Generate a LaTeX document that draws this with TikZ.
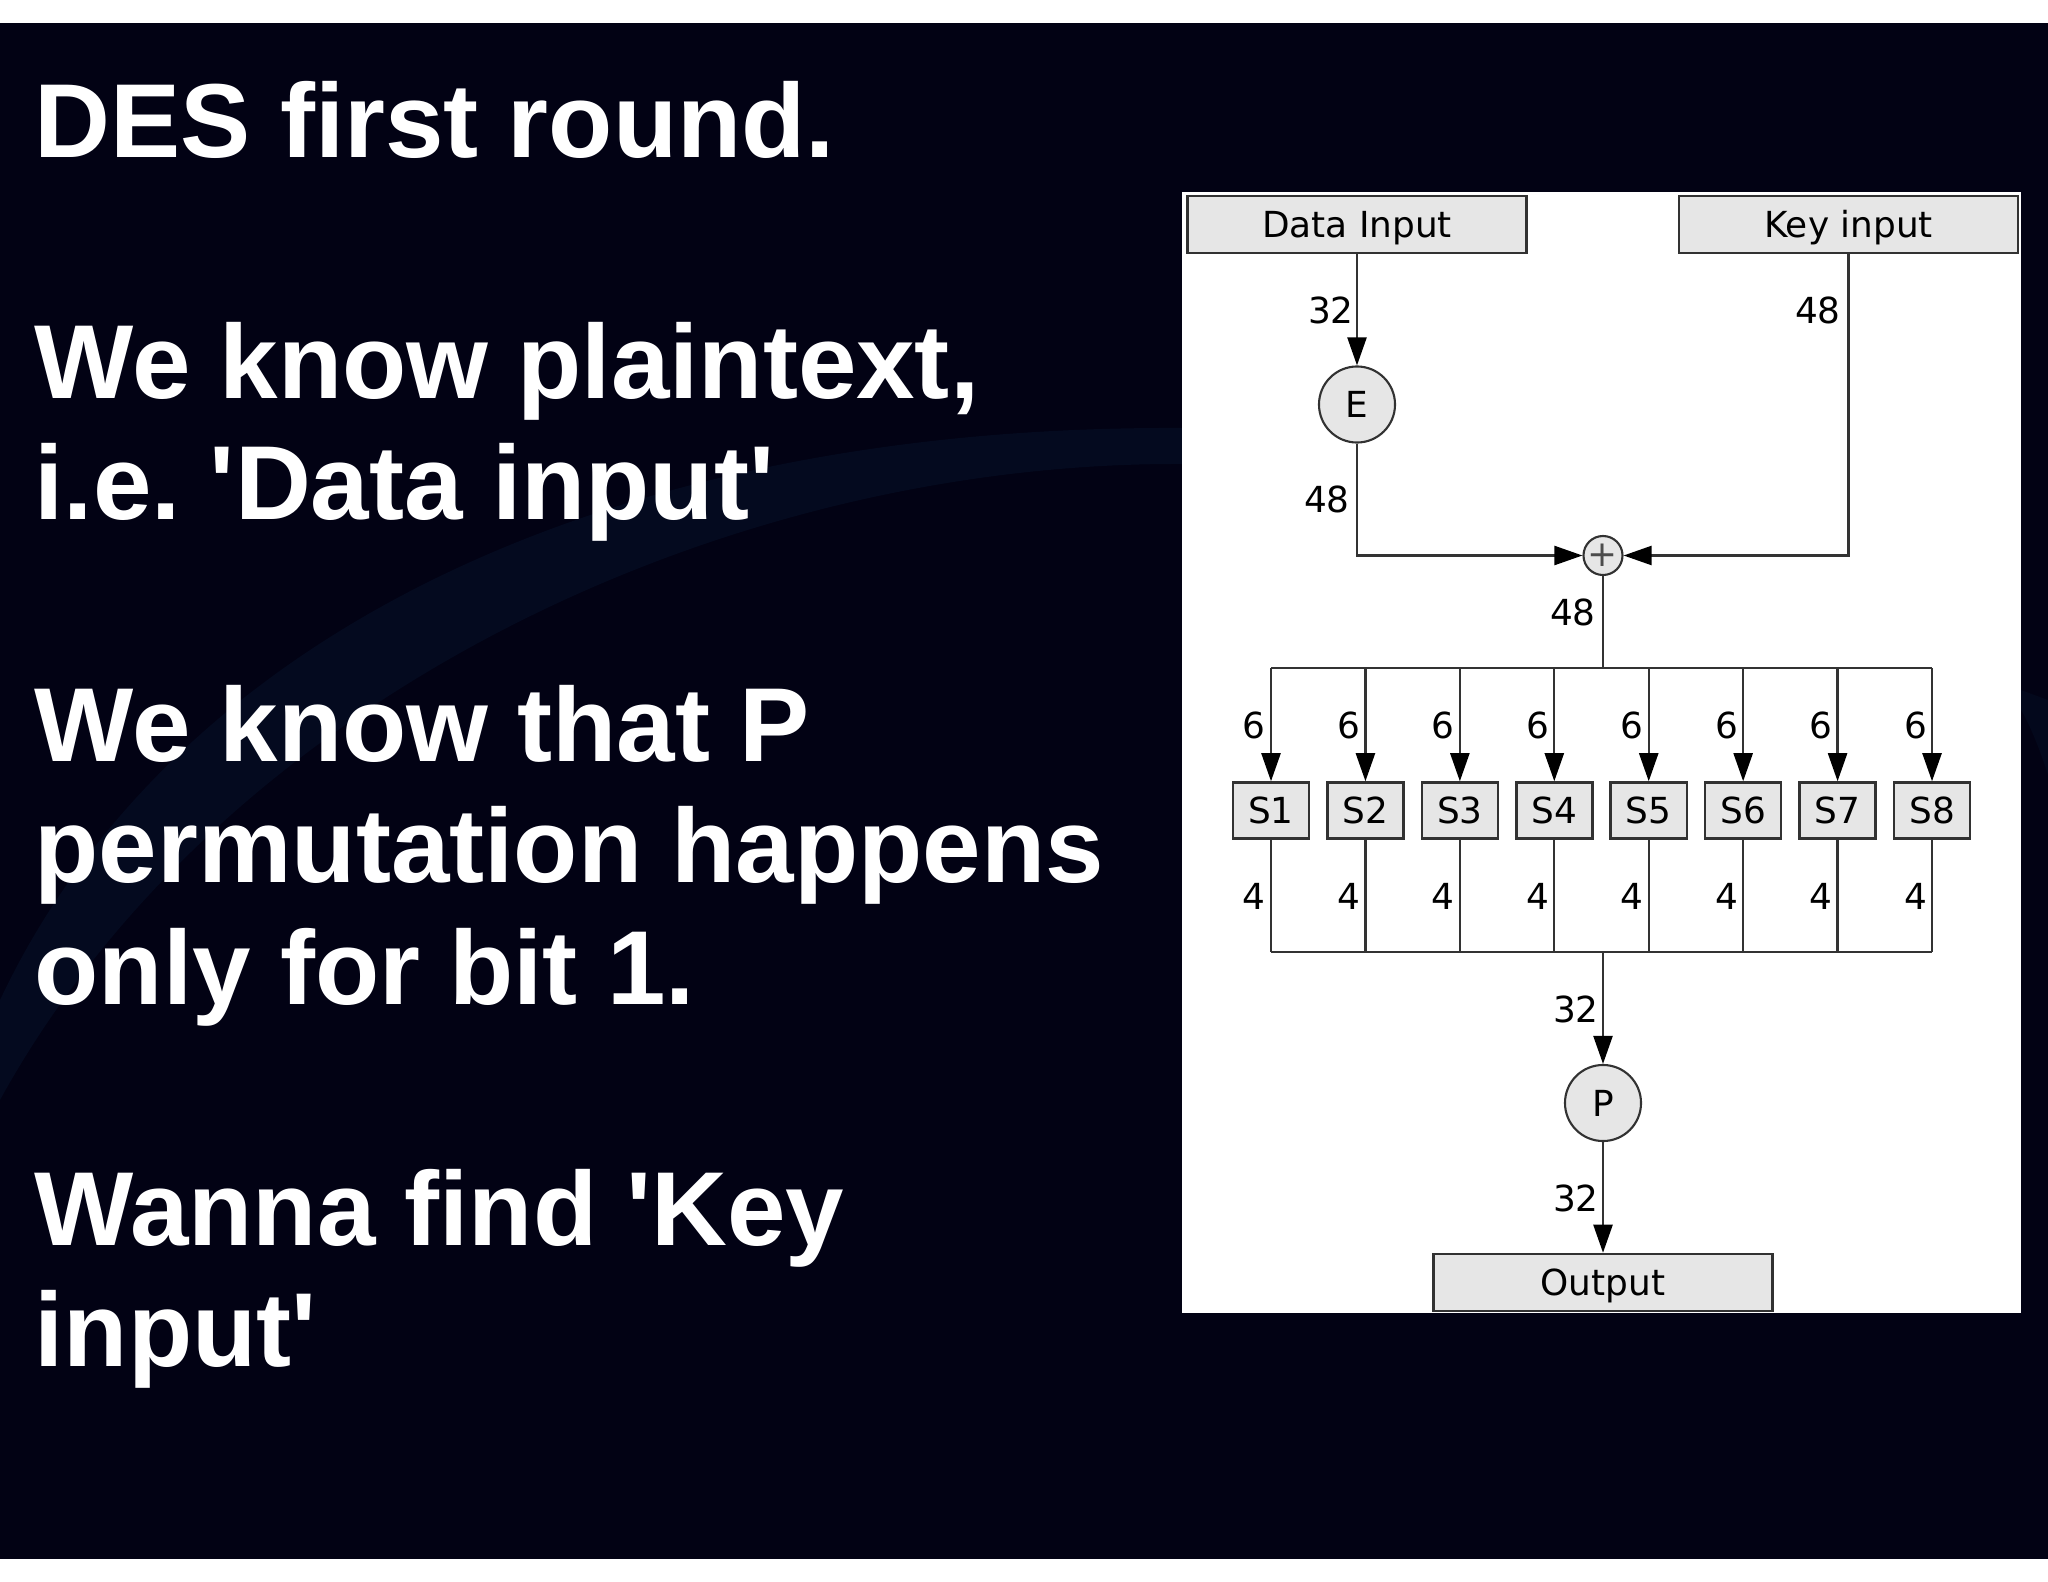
\documentclass[tikz,border=0pt]{standalone}
\usepackage{fontspec}
\setmainfont{Liberation Sans}
\newfontfamily\diagfont{DejaVu Sans}
\usetikzlibrary{arrows.meta}
\frenchspacing
\definecolor{slidebg}{RGB}{2,2,20}
\definecolor{slidearc}{RGB}{4,10,31}
\definecolor{slideglow}{RGB}{3,8,28}
\definecolor{blockfill}{RGB}{230,230,230}
\definecolor{blockline}{RGB}{50,50,50}
\tikzset{
    slidetext/.style={anchor=north west,align=left,inner sep=0pt,text=white,font=\fontsize{29.9}{34.43}\selectfont\bfseries},
    widebox/.style={draw=blockline,fill=blockfill,line width=0.7pt,minimum width=3.39cm,minimum height=0.57cm,inner sep=0pt,text height=0.26cm,text depth=0pt,font=\diagfont\fontsize{10.2}{12}\selectfont},
    sbox/.style={draw=blockline,fill=blockfill,line width=0.7pt,minimum width=0.76cm,minimum height=0.56cm,inner sep=0pt,font=\diagfont\fontsize{10.2}{12}\selectfont},
    roundbox/.style={circle,draw=blockline,fill=blockfill,line width=0.6pt,minimum size=0.76cm,inner sep=0pt,font=\diagfont\fontsize{10.2}{12}\selectfont},
    xorbox/.style={circle,draw=blockline,fill=blockfill,line width=0.6pt,minimum size=0.39cm,inner sep=0pt,text=black!70,font=\diagfont\fontsize{10.2}{12}\selectfont},
    wirelabel/.style={anchor=east,inner sep=0pt,font=\diagfont\fontsize{10.2}{12}\selectfont},
    wire/.style={line width=0.65pt,draw=black!80}
}
\begin{document}
\begin{tikzpicture}[x=0.01cm,y=0.01cm,>={Triangle[length=0.28cm,width=0.19cm,color=black]}]
    \useasboundingbox (0,0) rectangle (2048,-1582);
    \fill[white] (0,0) rectangle (2048,-1582);
    \fill[slidebg] (0,-23) rectangle (2048,-1559);
    % background swoosh
    \fill[slidearc] (0,-1000) .. controls (170,-640) and (600,-425) .. (1182,-428)
        -- (1182,-464) .. controls (720,-462) and (220,-700) .. (0,-1100) -- cycle;
    \fill[slideglow] (2021,-710) .. controls (2030,-725) and (2040,-750) .. (2048,-775)
        -- (2048,-700) -- (2021,-690) -- cycle;
    % slide text
    \node[slidetext] (title) at (34,-81) {DES first round.};
    \node[slidetext] (knownplain) at (34,-322) {We know plaintext,\\i.e. \textquotesingle Data input\textquotesingle};
    \node[slidetext] (knownperm) at (34,-685) {We know that P\\permutation happens\\only for bit 1.};
    \node[slidetext] (findkey) at (34,-1169) {Wanna find \textquotesingle Key\\input\textquotesingle};
    % white panel
    \fill[white] (1182,-192) rectangle (2021,-1313);
    % blocks
    \node[widebox] (datain) at (1357,-224.5) {Data Input};
    \node[widebox] (keyin) at (1848.5,-224.5) {Key input};
    \node[roundbox] (expand) at (1357,-404.5) {E};
    \node[xorbox] (xor) at (1603,-555.5) {+};
    \coordinate (topbus) at (1603,-668);
    \coordinate (lowbus) at (1603,-952.3);
    \foreach \i in {1,...,8} {
        \node[sbox] (s\i) at ({1271+(\i-1)*94.43},-810.5) {S\i};
        \coordinate (top\i) at (s\i |- topbus);
        \coordinate (low\i) at (s\i |- lowbus);
        \draw[wire,->] (top\i) -- (s\i);
        \draw[wire] (s\i) -- (low\i);
        \node[wirelabel] (six\i) at ({1266.5+(\i-1)*94.43},-725) {6};
        \node[wirelabel] (four\i) at ({1266.5+(\i-1)*94.43},-896) {4};
    }
    \node[roundbox] (perm) at (1603,-1103) {P};
    \node[widebox] (output) at (1603,-1282.5) {Output};
    % wires
    \draw[wire,->] (datain) -- (expand);
    \draw[wire,->] (expand) |- (xor);
    \draw[wire,->] (keyin) |- (xor);
    \draw[wire] (xor) -- (topbus);
    \draw[wire] (top1) -- (top8);
    \draw[wire] (low1) -- (low8);
    \draw[wire,->] (lowbus) -- (perm);
    \draw[wire,->] (perm) -- (output);
    % widths
    \node[wirelabel] (dataw) at (1354.5,-310) {32};
    \node[wirelabel] (keyw) at (1841.5,-310) {48};
    \node[wirelabel] (expw) at (1350.5,-499) {48};
    \node[wirelabel] (xorw) at (1596.5,-612) {48};
    \node[wirelabel] (loww) at (1599.5,-1009.5) {32};
    \node[wirelabel] (permw) at (1599.5,-1198) {32};
\end{tikzpicture}
\end{document}
